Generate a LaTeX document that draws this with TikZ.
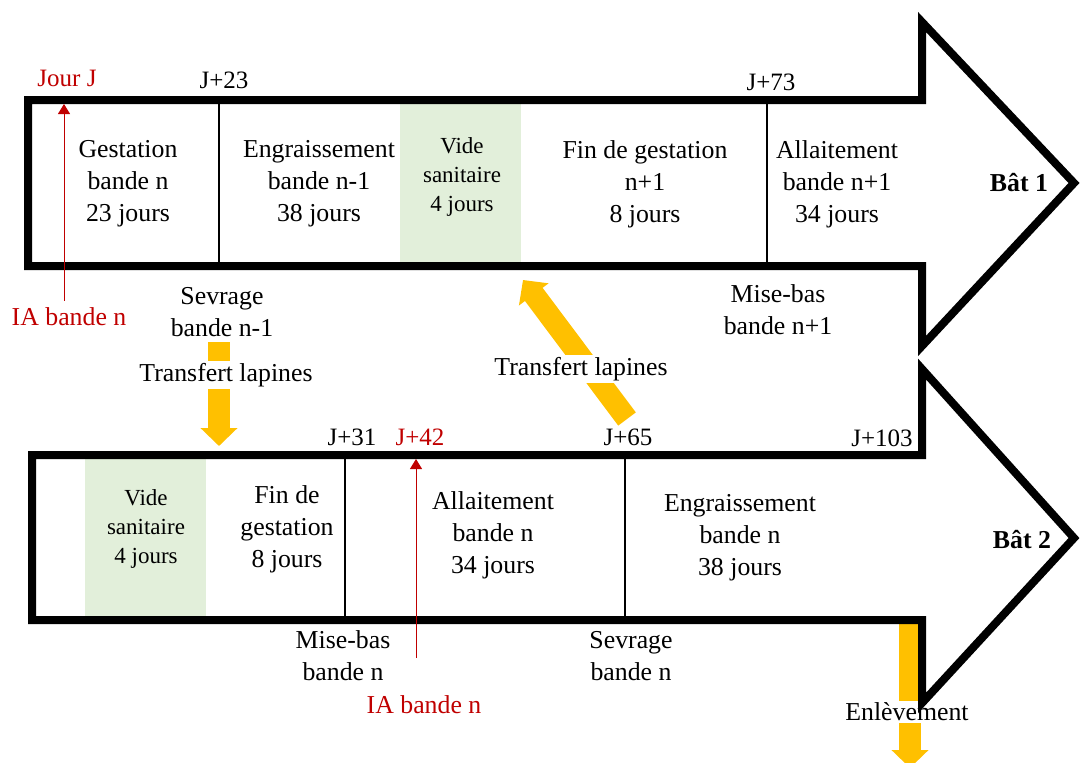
\documentclass[tikz,border=0pt]{standalone}
\usepackage{fontspec}
\setmainfont{Liberation Serif}
\usetikzlibrary{arrows.meta,positioning}
\definecolor{iared}{HTML}{C00000}
\definecolor{transfert}{HTML}{FFC000}
\definecolor{vide}{HTML}{E2EFDA}

\begin{document}
\begin{tikzpicture}[x=0.5pt,y=-0.5pt,
        font=\fontsize{12.9}{16}\selectfont,
        bloc/.style={align=center},
        petit/.style={align=center,font=\fontsize{11.5}{14.5}\selectfont},
        date/.style={font=\fontsize{12.5}{15}\selectfont},
        ia/.style={text=iared},
        coupe/.style={fill=white,inner sep=1pt},
        bat/.style={line width=4pt,line join=miter},
        sep/.style={line width=1pt},
        jaune/.style={draw=transfert,line width=11pt,-{Triangle[width=18pt,length=9pt]}},
        rouge/.style={draw=iared,line width=0.5pt,-{Triangle[width=6pt,length=5pt]}}]
        \useasboundingbox (0,0) rectangle (1081,762);

        \fill[vide] (400,100) rectangle (521,266);
        \fill[vide] (85,455) rectangle (206,620);

        \coordinate (c1) at (219,342);
        \coordinate (c2) at (219,446);
        \coordinate (c3) at (627,419);
        \coordinate (c4) at (523,280);
        \coordinate (c5) at (910,622);
        \coordinate (c6) at (910,768);
        \draw[jaune] (c1) -- (c2);
        \draw[jaune] (c3) -- (c4);
        \draw[jaune] (c5) -- (c6);

        \node(1)[bloc] at (128,184) {Gestation\\bande n\\23 jours};
        \node(2)[bloc] at (319,184) {Engraissement\\bande n-1\\38 jours};
        \node(3)[petit] at (462,177) {Vide\\sanitaire\\4 jours};
        \node(4)[bloc] at (645,184) {Fin de gestation\\n+1\\8 jours};
        \node(5)[bloc] at (837,184) {Allaitement\\bande n+1\\34 jours};
        \node(6) at (1019,183) {\textbf{Bât 1}};
        \node(7)[date,ia] at (67,78) {Jour J};
        \node(8)[date] at (224,80) {J+23};
        \node(9)[date] at (771,82) {J+73};
        \node(10)[ia] at (69,317) {IA bande n};
        \node(11)[bloc] at (222,312) {Sevrage\\bande n-1};
        \node(12)[bloc] at (778,310) {Mise-bas\\bande n+1};
        \node(13)[coupe] at (226,375) {Transfert lapines};
        \node(14)[coupe] at (581,369) {Transfert lapines};

        \node(15)[date] at (352,437) {J+31};
        \node(16)[date,ia] at (420,437) {J+42};
        \node(17)[date] at (628,437) {J+65};
        \node(18)[date] at (882,438) {J+103};
        \node(19)[petit] at (146,529) {Vide\\sanitaire\\4 jours};
        \node(20)[bloc] at (287,529) {Fin de\\gestation\\8 jours};
        \node(21)[bloc] at (493,535) {Allaitement\\bande n\\34 jours};
        \node(22)[bloc] at (740,538) {Engraissement\\bande n\\38 jours};
        \node(23) at (1022,540) {\textbf{Bât 2}};
        \node(24)[bloc] at (343,656) {Mise-bas\\bande n};
        \node(25)[bloc] at (631,656) {Sevrage\\bande n};
        \node(26)[ia] at (424,705) {IA bande n};
        \node(27)[coupe] at (907,712) {Enlèvement};

        \draw[sep] (219,100) -- (219,266);
        \draw[sep] (767,100) -- (767,266);
        \draw[sep] (345,455) -- (345,620);
        \draw[sep] (625,455) -- (625,620);

        \draw[bat] (28,100) -- (922,100) -- (922,22) -- (1074,183) -- (922,346)
                -- (922,266) -- (28,266) -- cycle;
        \draw[bat] (32,455) -- (922,455) -- (922,369) -- (1074,538) -- (922,703)
                -- (922,620) -- (32,620) -- cycle;

        \coordinate (r1) at (64,104);
        \coordinate (r2) at (416,459);
        \draw[rouge] (10.north -| r1) -- (r1);
        \draw[rouge] (416,658) -- (r2);
\end{tikzpicture}
\end{document}
